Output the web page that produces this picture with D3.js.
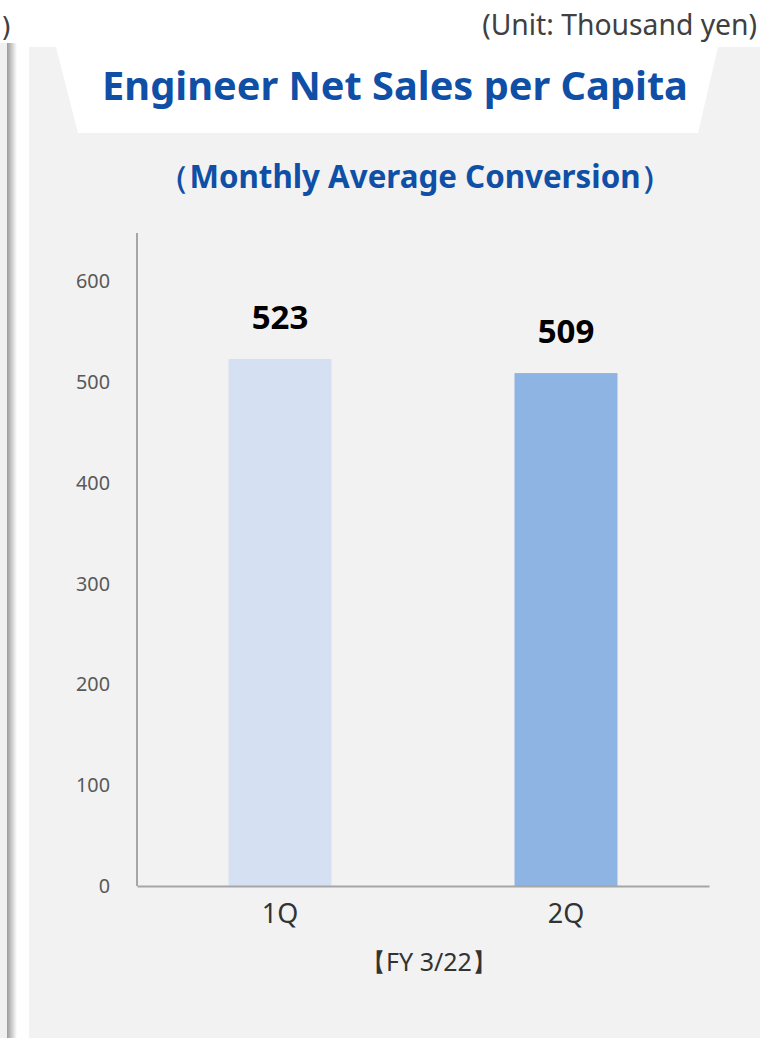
<!DOCTYPE html>
<html>
<head>
<meta charset="utf-8">
<script src="https://cdn.jsdelivr.net/npm/d3@7"></script>
<style>
  html, body { margin: 0; padding: 0; background: #fff; }
  svg { display: block; font-family: "Noto Sans", "DejaVu Sans", sans-serif; }
</style>
</head>
<body>
<div id="vis"></div>
<script>
// chart data
const quarters = ['1Q', '2Q']
const salesPerCapita = [523, 509]
const barColors = ['#d5e1f2', '#8eb4e3']
const yTicks = [0, 100, 200, 300, 400, 500, 600]

const W = 760, H = 1038
const plot = {left: 137, right: 709, top: 233, bottom: 886}

let svg = d3.select('#vis').append('svg')
    .attr('width', W)
    .attr('height', H)

// fit a text element's font size so it spans the wanted width
function fitWidth(sel, target){
    let node = sel.node()
    let fs = parseFloat(sel.attr('font-size'))
    let w = node.getComputedTextLength()
    sel.attr('font-size', fs * target / w)
    return fs * target / w
}

// left page edge with shadow
let grad = svg.append('defs').append('linearGradient')
    .attr('id', 'shadow').attr('x1', 0).attr('x2', 1)
grad.append('stop').attr('offset', 0).attr('stop-color', '#9a9a9a')
grad.append('stop').attr('offset', 0.6).attr('stop-color', '#d8d8d8')
grad.append('stop').attr('offset', 1).attr('stop-color', '#ffffff')
svg.append('rect').attr('x', 0).attr('y', 43).attr('width', 7).attr('height', H - 43).attr('fill', '#f0f0f0')
svg.append('rect').attr('x', 7).attr('y', 43).attr('width', 10).attr('height', H - 43).attr('fill', 'url(#shadow)')

// panel
svg.append('rect').attr('x', 29).attr('y', 47).attr('width', W - 29).attr('height', H - 47).attr('fill', '#f2f2f2')

// title banner
svg.append('path')
    .attr('d', 'M56,47 L718,47 L698,133 L78,133 Z')
    .attr('fill', '#ffffff')

let title = svg.append('text')
    .attr('x', 395).attr('y', 100)
    .attr('text-anchor', 'middle')
    .attr('font-size', 34).attr('font-weight', 'bold')
    .attr('fill', '#0f4fa6')
    .text('Engineer Net Sales per Capita')
fitWidth(title, 586)

let subtitle = svg.append('text')
    .attr('x', 415).attr('y', 188)
    .attr('text-anchor', 'middle')
    .attr('font-size', 28).attr('font-weight', 'bold')
    .attr('fill', '#0f4fa6')
    .text('（Monthly Average Conversion）')
fitWidth(subtitle, 514)

let unit = svg.append('text')
    .attr('x', 757).attr('y', 35)
    .attr('text-anchor', 'end')
    .attr('font-size', 22)
    .attr('fill', '#404040')
    .text('(Unit: Thousand yen)')
fitWidth(unit, 275)

svg.append('text')
    .attr('x', 1).attr('y', 36)
    .attr('font-size', 27)
    .attr('font-family', '"DejaVu Sans", sans-serif')
    .attr('fill', '#404040')
    .text(')')

// scales
let x = d3.scaleBand(quarters, [plot.left, plot.right])
    .paddingInner(0.64).paddingOuter(0.32)
let y = d3.scaleLinear([0, 648], [plot.bottom, plot.top])

// y tick labels
let yAxis = d3.axisLeft(y).tickValues(yTicks).tickSize(0).tickPadding(27)
let yG = svg.append('g')
    .attr('transform', `translate(${plot.left},0)`)
    .call(yAxis)
    .call(g => g.select('.domain').remove())
    .call(g => g.selectAll('text')
        .attr('font-family', '"Noto Sans", sans-serif')
        .attr('font-size', 18)
        .attr('fill', '#595959'))
let tickFs = fitWidth(yG.selectAll('text').filter(d => d === 600), 34)
yG.selectAll('text').attr('font-size', tickFs)

// bars
svg.selectAll('rect.bar')
    .data(quarters)
    .enter()
    .append('rect')
        .attr('class', 'bar')
        .attr('x', d => x(d))
        .attr('width', x.bandwidth())
        .attr('y', (d, i) => y(salesPerCapita[i]))
        .attr('height', (d, i) => y(0) - y(salesPerCapita[i]))
        .attr('fill', (d, i) => barColors[i])

// value labels
svg.selectAll('text.val')
    .data(quarters)
    .enter()
    .append('text')
        .attr('class', 'val')
        .attr('x', d => x(d) + x.bandwidth() / 2)
        .attr('y', (d, i) => y(salesPerCapita[i]) - 30)
        .attr('text-anchor', 'middle')
        .attr('font-size', 33).attr('font-weight', 'bold')
        .attr('fill', '#000')
        .text((d, i) => salesPerCapita[i])

// axis lines
svg.append('line')
    .attr('x1', plot.left).attr('x2', plot.left)
    .attr('y1', plot.top).attr('y2', plot.bottom)
    .attr('stroke', '#a6a6a6').attr('stroke-width', 2)
let xAxis = d3.axisBottom(x).tickSize(0).tickPadding(18)
svg.append('g')
    .attr('transform', `translate(0,${plot.bottom})`)
    .call(xAxis)
    .call(g => g.select('.domain').attr('stroke', '#a6a6a6').attr('stroke-width', 2))
    .call(g => g.selectAll('text')
        .attr('font-family', '"Noto Sans", sans-serif')
        .attr('font-size', 27)
        .attr('fill', '#333'))

svg.append('text')
    .attr('x', 429).attr('y', 971)
    .attr('text-anchor', 'middle')
    .attr('font-size', 25)
    .attr('fill', '#333')
    .text('【FY 3/22】')
</script>
</body>
</html>
